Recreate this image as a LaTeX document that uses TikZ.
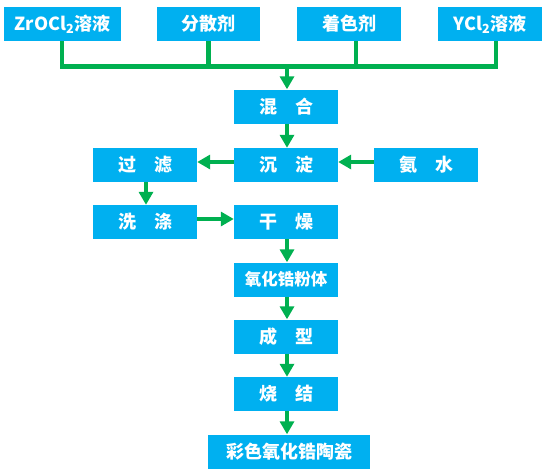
\documentclass[tikz,border=0pt]{standalone}
\usepackage{fontspec}
\setmainfont{Noto Sans CJK SC}
\usetikzlibrary{arrows.meta}
\definecolor{boxblue}{HTML}{00B0F0}
\definecolor{lgreen}{HTML}{00B050}
\tikzset{
  box/.style={fill=boxblue, text=white, font=\fontsize{18}{18}\selectfont\bfseries,
    minimum height=34pt, minimum width=104pt, inner sep=0pt, anchor=center},
  conn/.style={draw=lgreen, line width=4.5pt},
  arr/.style={draw=lgreen, line width=4.5pt, -{Triangle[length=13pt,width=14pt]}}
}
\newcommand{\csp}{\hspace{1em}}
\begin{document}
\begin{tikzpicture}[x=1pt,y=-1pt]
\useasboundingbox (0,0) rectangle (548,472);
\node[box, minimum width=117pt] (A) at (62.5,24) {ZrOCl\textsubscript{2}溶液};
\node[box, minimum width=103pt] (B) at (208.5,24) {分散剂};
\node[box] (C) at (349,24) {着色剂};
\node[box] (D) at (490,24) {YCl\textsubscript{2}溶液};
\node[box] (hunhe) at (286,106.5) {混\csp 合};
\node[box] (chendian) at (286,165) {沉\csp 淀};
\node[box] (guolv) at (145,165) {过\csp 滤};
\node[box] (anshui) at (426,165) {氨\csp 水};
\node[box] (xidi) at (145,222) {洗\csp 涤};
\node[box] (ganzao) at (286,222) {干\csp 燥};
\node[box, font=\fontsize{16.5}{16.5}\selectfont\bfseries] (fenti) at (286,279.5) {氧化锆粉体};
\node[box] (chengxing) at (286,336.5) {成\csp 型};
\node[box] (shaojie) at (286,394) {烧\csp 结};
\node[box, minimum width=162pt] (caise) at (289,451.5) {彩色氧化锆陶瓷};
\coordinate (J) at (287,66.5);
\draw[conn] ([xshift=-0.5pt]A.south) |- (J);
\draw[conn] ([xshift=6pt]D.south) |- (J);
\draw[conn] (B.south) -- (B.south |- J);
\draw[conn] ([xshift=7pt]C.south) -- ([xshift=7pt]C.south |- J);
\draw[arr] (J) -- (J |- hunhe.north);
\draw[arr] ([xshift=1pt]hunhe.south) -- ([xshift=1pt]chendian.north);
\draw[arr] ([yshift=3pt]chendian.west) -- ([yshift=3pt]guolv.east);
\draw[arr] ([yshift=3pt]anshui.west) -- ([yshift=3pt]chendian.east);
\draw[arr] ([xshift=1pt]guolv.south) -- ([xshift=1pt]xidi.north);
\draw[arr] ([yshift=3pt]xidi.east) -- ([yshift=3pt]ganzao.west);
\draw[arr] ([xshift=1pt]ganzao.south) -- ([xshift=1pt]fenti.north);
\draw[arr] ([xshift=1pt]fenti.south) -- ([xshift=1pt]chengxing.north);
\draw[arr] ([xshift=1pt]chengxing.south) -- ([xshift=1pt]shaojie.north);
\draw[arr] ([xshift=1pt]shaojie.south) -- ([xshift=1pt]shaojie.south |- caise.north);
\end{tikzpicture}
\end{document}
